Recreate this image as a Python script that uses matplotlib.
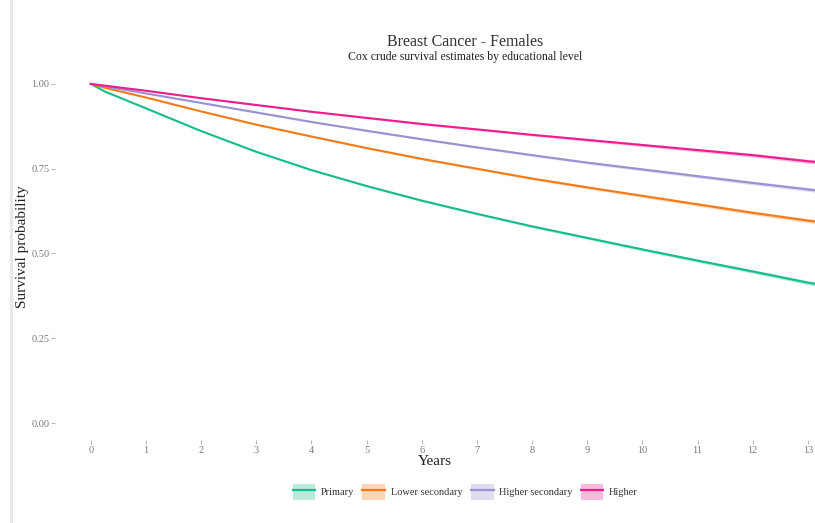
import matplotlib
matplotlib.use("Agg")
import matplotlib.pyplot as plt
from matplotlib.patches import Patch, Rectangle
from matplotlib.lines import Line2D

plt.rcParams['font.family'] = ['Liberation Serif', 'DejaVu Serif']

years = [0, 0.25, 1, 2, 3, 4, 5, 6, 7, 8, 9, 10, 11, 12, 13, 13.15]
primary = [1.0, 0.978, 0.928, 0.861, 0.800, 0.746, 0.699, 0.656, 0.617, 0.580, 0.546, 0.512, 0.479, 0.447, 0.414, 0.410]
lower_secondary = [1.0, 0.989, 0.960, 0.919, 0.880, 0.845, 0.811, 0.779, 0.750, 0.721, 0.695, 0.670, 0.645, 0.620, 0.597, 0.594]
higher_secondary = [1.0, 0.993, 0.972, 0.944, 0.916, 0.888, 0.862, 0.837, 0.813, 0.790, 0.768, 0.748, 0.728, 0.708, 0.689, 0.686]
higher = [1.0, 0.995, 0.980, 0.958, 0.938, 0.918, 0.900, 0.882, 0.866, 0.850, 0.835, 0.820, 0.805, 0.790, 0.772, 0.770]
ci_half = [0.0, 0.0005, 0.001, 0.0015, 0.002, 0.002, 0.0025, 0.003, 0.003, 0.0035, 0.004, 0.0045, 0.005, 0.0055, 0.006, 0.006]

labels = ["Primary", "Lower secondary", "Higher secondary", "Higher"]
colors = ["#16BC8C", "#F57A1A", "#9C90D2", "#EE1C8C"]
series = [primary, lower_secondary, higher_secondary, higher]

xticks = list(range(0, 14))
yticks = [0.0, 0.25, 0.50, 0.75, 1.00]
ytick_labels = ["0.00", "0.25", "0.50", "0.75", "1.00"]

fig = plt.figure(figsize=(8.15, 5.23), dpi=100)
fig.patch.set_facecolor("white")
ax = fig.add_axes([55/815, 1-440/523, 760/815, (440-67)/523])

for vals, c in zip(series, colors):
    lo = [v - h for v, h in zip(vals, ci_half)]
    hi = [v + h for v, h in zip(vals, ci_half)]
    ax.fill_between(years, lo, hi, color=c, alpha=0.3, linewidth=0)
    ax.plot(years, vals, color=c, linewidth=1.5)

ax.set_xlim(-0.65, 13.13)
ax.set_ylim(-0.05, 1.05)
ax.set_xticks(xticks)
ax.set_xticklabels([str(t) for t in xticks])
ax.set_yticks(yticks)
ax.set_yticklabels(ytick_labels)
for s in ax.spines.values():
    s.set_visible(False)
ax.tick_params(axis='both', colors='#aaaaaa', labelcolor='#7a7a7a', labelsize=7.5, length=3, width=0.6)
ax.tick_params(axis='x', pad=1)
ax.tick_params(axis='y', pad=1)
ax.set_xlabel("Years", fontsize=11, color='#222222', labelpad=0)
ax.set_ylabel("Survival probability", fontsize=11, color='#222222')
ax.yaxis.set_label_coords(-26/760, (440-247)/373)

fig.text(465/815, 1-42/523, "Breast Cancer - Females", ha='center', va='center', fontsize=11.5, color='#333333')
fig.text(465/815, 1-57/523, "Cox crude survival estimates by educational level", ha='center', va='center', fontsize=8.5, color='#222222')

# left grey border strip
fig.add_artist(Rectangle((10/815, 0), 3/815, 1, transform=fig.transFigure, facecolor='#e8e8e8', edgecolor='none'))

handles = []
for c in colors:
    handles.append((Patch(facecolor=c, alpha=0.3, edgecolor='none'), Line2D([], [], color=c, linewidth=1.6)))
fig.legend(handles, labels, loc='center', bbox_to_anchor=(465/815, 1-492/523), ncol=4, frameon=False,
           fontsize=7.5, handlelength=2.2, handleheight=2.0, handletextpad=0.5, columnspacing=0.8,
           labelcolor='#333333')

fig.savefig("out.png", dpi=100, facecolor='white')
